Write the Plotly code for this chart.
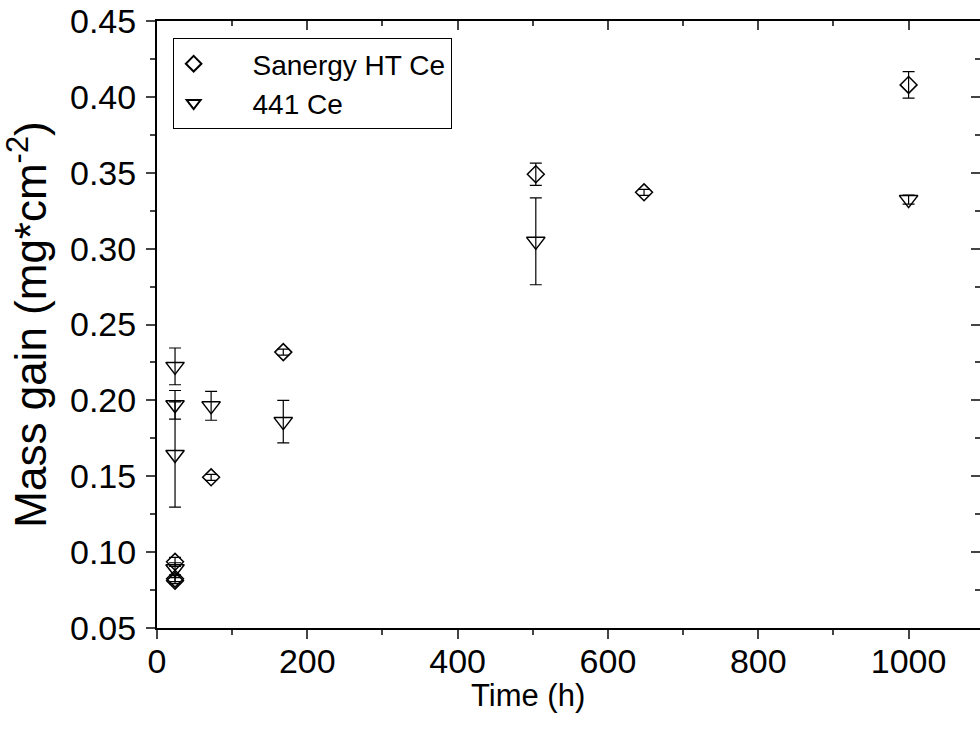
import plotly.graph_objects as go

# Sanergy HT Ce
san_x = [24, 24, 24, 72, 168, 504, 648, 1000]
san_y = [0.0936, 0.0825, 0.0812, 0.1493, 0.2318, 0.349, 0.3371, 0.4079]
san_err = [0.003, 0.002, 0.002, 0.002, 0.002, 0.0073, 0.002, 0.0087]

# 441 Ce
c441_x = [24, 24, 24, 24, 72, 168, 504, 1000]
c441_y = [0.2224, 0.1971, 0.1643, 0.089, 0.1964, 0.186, 0.3048, 0.3323]
c441_err = [0.0121, 0.0094, 0.0347, 0.004, 0.0095, 0.014, 0.0286, 0.003]

series_names = ["Sanergy HT Ce", "441 Ce"]

x_range = [0, 1095]
y_range = [0.05, 0.45]
x_ticks = [0, 200, 400, 600, 800, 1000]
y_ticks = [0.05, 0.10, 0.15, 0.20, 0.25, 0.30, 0.35, 0.40, 0.45]

FONT = "Arial, Liberation Sans, sans-serif"
PAD = "\u00a0" * 5

fig = go.Figure()
fig.add_trace(go.Scatter(
    x=san_x, y=san_y, mode="markers", name=PAD + series_names[0],
    marker=dict(symbol="diamond-open", size=13, color="black", line=dict(width=1.5, color="black")),
    error_y=dict(type="data", array=san_err, visible=True, color="black", thickness=1.2, width=6),
))
fig.add_trace(go.Scatter(
    x=c441_x, y=c441_y, mode="markers", name=PAD + series_names[1],
    marker=dict(symbol="triangle-down-open", size=16, color="black", line=dict(width=1.5, color="black")),
    error_y=dict(type="data", array=c441_err, visible=True, color="black", thickness=1.2, width=6),
))
# empty trace to activate mirror axes
fig.add_trace(go.Scatter(x=[None], y=[None], xaxis="x2", yaxis="y2", showlegend=False, hoverinfo="skip"))

tickfont = dict(family=FONT, size=34, color="black")
fig.update_layout(
    width=980, height=746,
    margin=dict(l=157, r=0, t=21, b=118),
    plot_bgcolor="white", paper_bgcolor="white",
    font=dict(family=FONT, color="black"),
    xaxis=dict(
        range=x_range, tickvals=x_ticks, ticks="outside", ticklen=9, tickwidth=1.5,
        showline=True, linewidth=2, linecolor="black", showgrid=False, zeroline=False,
        tickfont=tickfont, ticklabelstandoff=-7,
        minor=dict(dtick=100, tick0=0, ticks="outside", ticklen=5, tickwidth=1.5, showgrid=False),
    ),
    yaxis=dict(
        range=y_range, tickvals=y_ticks, ticktext=[f"{v:.2f}" for v in y_ticks],
        ticks="outside", ticklen=9, tickwidth=1.5,
        showline=True, linewidth=2, linecolor="black", showgrid=False, zeroline=False,
        tickfont=tickfont, ticklabelstandoff=3,
        minor=dict(dtick=0.025, tick0=0.05, ticks="outside", ticklen=5, tickwidth=1.5, showgrid=False),
        title=dict(text="Mass gain (mg*cm<sup>-2</sup>)", font=dict(family=FONT, size=44), standoff=14),
    ),
    xaxis2=dict(
        overlaying="x", side="top", anchor="y", range=x_range, tickvals=x_ticks,
        ticks="inside", ticklen=9, tickwidth=1.5, showticklabels=False,
        showline=True, linewidth=2, linecolor="black", showgrid=False, zeroline=False,
        minor=dict(dtick=100, tick0=0, ticks="inside", ticklen=5, tickwidth=1.5, showgrid=False),
    ),
    yaxis2=dict(
        overlaying="y", side="right", anchor="x", range=y_range, tickvals=y_ticks,
        ticks="inside", ticklen=9, tickwidth=1.5, showticklabels=False,
        showline=True, linewidth=2, linecolor="black", showgrid=False, zeroline=False,
        minor=dict(dtick=0.025, tick0=0.05, ticks="inside", ticklen=5, tickwidth=1.5, showgrid=False),
    ),
    legend=dict(
        x=0.019, y=0.972, xanchor="left", yanchor="top",
        bgcolor="white", bordercolor="black", borderwidth=1,
        font=dict(family=FONT, size=28, color="black"),
        itemsizing="constant", itemwidth=30, tracegroupgap=0,
    ),
    annotations=[dict(
        text="Time (h)", xref="paper", yref="paper", x=0.451, y=-0.112,
        xanchor="center", yanchor="middle", showarrow=False,
        font=dict(family=FONT, size=31, color="black"),
    )],
    showlegend=True,
)

fig.write_html("out.html")
